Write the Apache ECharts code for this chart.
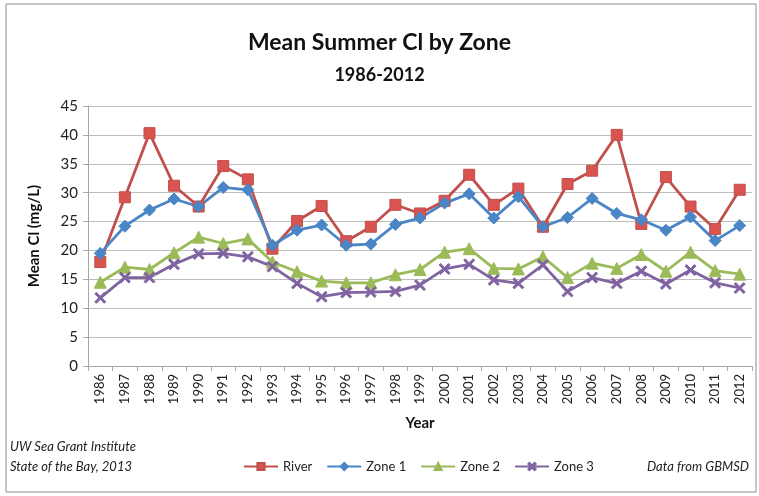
<!DOCTYPE html>
<html>
<head>
<meta charset="utf-8">
<script src="https://cdn.jsdelivr.net/npm/echarts@6/dist/echarts.min.js"></script>
<style>
  html, body { margin: 0; padding: 0; background: #fff; }
  #chart { width: 759px; height: 496px; }
</style>
</head>
<body>
<div id="chart"></div>
<script>
const years = ['1986','1987','1988','1989','1990','1991','1992','1993','1994','1995','1996','1997','1998','1999',
  '2000','2001','2002','2003','2004','2005','2006','2007','2008','2009','2010','2011','2012'];
const yTicks = [0, 5, 10, 15, 20, 25, 30, 35, 40, 45];

const river = [18.0, 29.2, 40.3, 31.2, 27.6, 34.6, 32.3, 20.3, 25.1, 27.7, 21.6, 24.1, 27.9, 26.4,
  28.6, 33.1, 27.9, 30.7, 24.1, 31.5, 33.8, 40.0, 24.6, 32.7, 27.6, 23.7, 30.5];
const zone1 = [19.5, 24.2, 27.0, 28.9, 27.6, 30.9, 30.5, 20.9, 23.5, 24.4, 20.9, 21.1, 24.5, 25.6,
  28.2, 29.8, 25.6, 29.3, 24.1, 25.7, 29.0, 26.4, 25.3, 23.5, 25.8, 21.7, 24.3];
const zone2 = [14.5, 17.1, 16.7, 19.6, 22.3, 21.2, 22.0, 18.0, 16.3, 14.7, 14.4, 14.4, 15.8, 16.7,
  19.7, 20.3, 16.9, 16.8, 18.9, 15.3, 17.8, 16.9, 19.3, 16.4, 19.7, 16.5, 15.9];
const zone3 = [11.8, 15.3, 15.3, 17.6, 19.4, 19.5, 18.9, 17.2, 14.3, 12.0, 12.7, 12.8, 12.9, 14.0,
  16.8, 17.6, 14.9, 14.3, 17.5, 12.9, 15.3, 14.3, 16.4, 14.2, 16.6, 14.4, 13.5];

const font = 'Lato, "Open Sans", sans-serif';
const xMark = 'path://M0,1.4L1.4,0L5,3.6L8.6,0L10,1.4L6.4,5L10,8.6L8.6,10L5,6.4L1.4,10L0,8.6L3.6,5Z';

function line(name, data, color, symbol, size, fill) {
  return {
    name, type: 'line', data,
    symbol, symbolSize: size,
    lineStyle: { color, width: 2.8 },
    itemStyle: { color: fill || color, borderColor: color, borderWidth: 1 },
    emphasis: { disabled: true },
    z: 3
  };
}

const chart = echarts.init(document.getElementById('chart'), null, { renderer: 'canvas' });
chart.setOption({
  animation: false,
  backgroundColor: '#fff',
  textStyle: { fontFamily: font },
  title: [
    { text: 'Mean Summer Cl by Zone', left: 'center', top: 26,
      textStyle: { fontSize: 23, fontWeight: 'bold', color: '#111', fontFamily: font } },
    { text: '1986-2012', left: 'center', top: 61,
      textStyle: { fontSize: 18, fontWeight: 'bold', color: '#111', fontFamily: font } }
  ],
  graphic: [
    { type: 'rect', shape: { x: 6, y: 4, width: 750, height: 488 },
      style: { fill: 'none', stroke: '#8c8c8c', lineWidth: 1 }, silent: true },
    { type: 'text', left: 10, top: 440,
      style: { text: 'UW Sea Grant Institute', font: 'italic 13px ' + font, fill: '#222' } },
    { type: 'text', left: 10, top: 460,
      style: { text: 'State of the Bay, 2013', font: 'italic 13px ' + font, fill: '#222' } },
    { type: 'text', right: 10, top: 460,
      style: { text: 'Data from GBMSD', font: 'italic 13px ' + font, fill: '#222' } }
  ],
  legend: {
    bottom: 18, left: 238,
    itemWidth: 34, itemHeight: 9, itemGap: 14,
    textStyle: { fontSize: 13, color: '#222', fontFamily: font },
    data: ['River', 'Zone 1', 'Zone 2', 'Zone 3']
  },
  grid: { left: 88, right: 7, top: 106, bottom: 130 },
  xAxis: {
    type: 'category', data: years, boundaryGap: true,
    name: 'Year', nameLocation: 'middle', nameGap: 50,
    nameTextStyle: { fontSize: 15, fontWeight: 'bold', color: '#111' },
    axisLine: { lineStyle: { color: '#a6a6a6' } },
    axisTick: { show: true, alignWithLabel: false, length: 5, lineStyle: { color: '#a6a6a6' } },
    axisLabel: { rotate: 90, fontSize: 13, color: '#222', interval: 0, margin: 8 }
  },
  yAxis: {
    type: 'value', min: 0, max: 45, interval: 5,
    name: 'Mean Cl (mg/L)', nameLocation: 'middle', nameGap: 46, nameRotate: 90,
    nameTextStyle: { fontSize: 15, fontWeight: 'bold', color: '#111' },
    axisLine: { show: true, lineStyle: { color: '#a6a6a6' } },
    axisTick: { show: true, length: 5, lineStyle: { color: '#a6a6a6' } },
    axisLabel: { fontSize: 15, color: '#222', margin: 10,
      formatter: v => yTicks.includes(v) ? String(v) : '' },
    splitLine: { lineStyle: { color: '#bdbdbd', width: 1 } }
  },
  series: [
    line('River', river, '#c0504d', 'rect', 11, '#d9534f'),
    line('Zone 1', zone1, '#4a86c6', 'diamond', 12),
    line('Zone 2', zone2, '#9bbb59', 'triangle', 12),
    line('Zone 3', zone3, '#8064a2', xMark, 11)
  ]
});
</script>
</body>
</html>
